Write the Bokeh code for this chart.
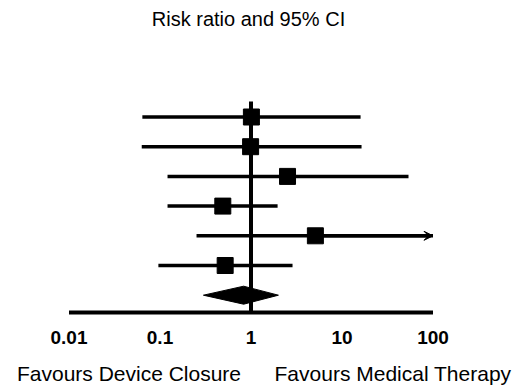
import math
from bokeh.plotting import figure
from bokeh.models import Range1d, ColumnDataSource, Arrow, VeeHead
from bokeh.core.properties import value
from bokeh.embed import file_html
from bokeh.resources import INLINE

# ---- data ----
rr = [1.01, 0.99, 2.52, 0.49, 5.1, 0.52]
ci_low = [0.064, 0.063, 0.121, 0.121, 0.252, 0.096]
ci_high = [16.0, 16.4, 53.8, 1.96, 150.0, 2.86]
pooled_rr = 0.83
pooled_low = 0.30
pooled_high = 2.0
tick_values = [0.01, 0.1, 1, 10, 100]
tick_labels = ["0.01", "0.1", "1", "10", "100"]
title_text = "Risk ratio and 95% CI"
left_label = "Favours Device Closure"
right_label = "Favours Medical Therapy"

W, H = 520, 386
FONT = "Liberation Sans"

# layout: 1 at px 250.5, 91 px per decade; rows at 116.5 + 29.7*i px
px_one, px_dec = 250.5, 91.0
row0, row_h = 116.5, 29.7


def ypix(p):
    return (p - row0) / row_h


x_lo = 10 ** (-px_one / px_dec)
x_hi = 10 ** ((W - px_one) / px_dec)

p = figure(width=W, height=H, output_backend="svg", toolbar_location=None,
           x_axis_type="log", x_range=Range1d(x_lo, x_hi),
           y_range=Range1d(ypix(H), ypix(0)),
           x_axis_location=None, y_axis_location=None,
           min_border=0, outline_line_color=None)
p.grid.visible = False
p.background_fill_color = "white"
p.border_fill_color = "white"

n = len(rr)
rows = list(range(n))
xmax = max(tick_values)
xmin = min(tick_values)

axis_y = ypix(312)

# vertical line of no effect
p.segment(x0=[1], y0=[ypix(101)], x1=[1], y1=[axis_y], line_color="black", line_width=4)

# confidence intervals
hi_clip = [min(h, xmax) for h in ci_high]
src = ColumnDataSource(dict(y=rows, rr=rr, lo=ci_low, hi=hi_clip))
p.segment(x0="lo", y0="y", x1="hi", y1="y", source=src, line_color="black", line_width=3.5)
for i in rows:
    if ci_high[i] > xmax:
        p.add_layout(Arrow(end=VeeHead(size=9, fill_color="black", line_color="black", line_width=1),
                           x_start=rr[i], y_start=i, x_end=xmax, y_end=i,
                           line_color="black", line_width=3.5))

p.scatter(x="rr", y="y", source=src, marker="square", size=16,
          fill_color="black", line_color="black", line_width=1)

# pooled diamond
dy = 9 / row_h
p.patch(x=[pooled_low, pooled_rr, pooled_high, pooled_rr],
        y=[n, n - dy, n, n + dy], fill_color="black", line_color="black", line_width=1)

# axis line
p.segment(x0=[xmin], y0=[axis_y], x1=[xmax], y1=[axis_y], line_color="black", line_width=4)

# tick labels
p.text(x=tick_values, y=[ypix(337)] * len(tick_values), text=tick_labels,
       text_font=value(FONT), text_font_size="19px", text_font_style="bold",
       text_align="center", text_baseline="alphabetic", text_color="black")

# title
title_x = 10 ** ((248 - px_one) / px_dec)
p.text(x=[title_x], y=[ypix(18)], text=[title_text], text_font=value(FONT),
       text_font_size="20px", text_align="center", text_baseline="alphabetic", text_color="black")

# bottom labels
lx = 10 ** ((128.5 - px_one) / px_dec)
rx = 10 ** ((392.5 - px_one) / px_dec)
p.text(x=[lx, rx], y=[ypix(373)] * 2, text=[left_label, right_label], text_font=value(FONT),
       text_font_size="21px", text_align="center", text_baseline="alphabetic", text_color="black")

open("out.html", "w").write(file_html(p, INLINE))
